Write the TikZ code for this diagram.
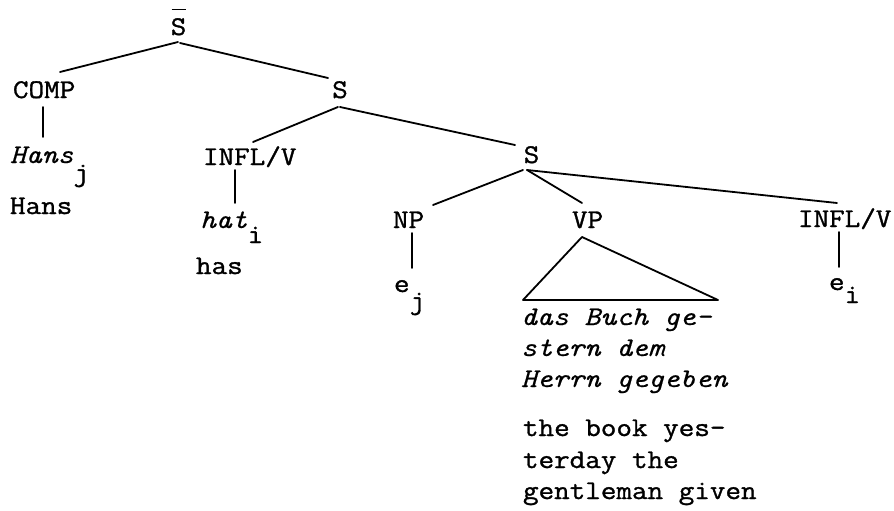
\documentclass[tikz,border=0pt]{standalone}
\usepackage{fontspec}
\setmainfont{Latin Modern Mono}[FakeStretch=1.12, FakeBold=1.2]
\newfontfamily\twit{Latin Modern Mono}[FakeStretch=1.12, FakeBold=0.5]
\usetikzlibrary{calc}
\tikzset{
  lbl/.style={inner sep=0pt, outer sep=0pt, font=\fontsize{27}{32}\selectfont},
  it/.style={inner sep=0pt, outer sep=0pt, font=\fontsize{27}{32}\twit\itshape},
  edge/.style={line width=1.8pt, line cap=round, line join=round}
}
\newcommand{\lowsub}[2]{\raisebox{-#1pt}{#2}}
\begin{document}
\begin{tikzpicture}[x=1pt,y=-1pt]
\useasboundingbox (0,0) rectangle (894,511);
% nodes
\node[lbl, anchor=base] (sbar) at (178.5,35) {S};
\node[lbl, anchor=base west] (comp) at (13,98) {COMP};
\node[lbl, anchor=base] (s2) at (340,98) {S};
\node[it, anchor=base west] (hansi) at (10,163) {Hans\lowsub{18}{\normalfont\fontsize{27}{32}\selectfont j}};
\node[lbl, anchor=base west] (hansr) at (10,214) {Hans};
\node[lbl, anchor=base west] (infl1) at (203,165) {INFL/V};
\node[it, anchor=base west] (hat) at (200,228) {hat\lowsub{15}{\normalfont\fontsize{27}{32}\selectfont i}};
\node[lbl, anchor=base west] (has) at (196,274) {has};
\node[lbl, anchor=base] (s3) at (531.5,163) {S};
\node[lbl, anchor=base west] (np) at (393,228) {NP};
\node[lbl, anchor=base west] (vp) at (572,228) {VP};
\node[lbl, anchor=base west] (infl2) at (798,227) {INFL/V};
\node[lbl, anchor=base west] (ej) at (394,292) {e\lowsub{17}{j}};
\node[lbl, anchor=base west] (ei) at (829,290) {e\lowsub{13}{i}};
\node[it, anchor=base west] (de1) at (521,325) {das Buch ge-};
\node[it, anchor=base west] (de2) at (521,356) {stern dem};
\node[it, anchor=base west] (de3) at (521,387) {Herrn gegeben};
\node[lbl, anchor=base west] (en1) at (523,436) {the book yes-};
\node[lbl, anchor=base west] (en2) at (523,468) {terday the};
\node[lbl, anchor=base west] (en3) at (523,499) {gentleman given};
% bar over S
\draw[line width=1.6pt] ($(sbar.base)+(-7,-25.5)$) -- ($(sbar.base)+(7,-25.5)$);
% connectors
\draw[edge] ($(sbar.base)+(-0.5,7)$) -- ($(comp.base west)+(47,-26)$);
\draw[edge] ($(sbar.base)+(1.5,8)$) -- ($(s2.base)+(-12,-20)$);
\draw[edge] ($(comp.base west)+(30,9)$) -- ($(hansi.base west)+(33,-26)$);
\draw[edge] ($(s2.base)+(-2,9)$) -- ($(infl1.base west)+(50,-23)$);
\draw[edge] ($(s2.base)+(0,9)$) -- ($(s3.base)+(-16.5,-18)$);
\draw[edge] ($(infl1.base west)+(32,5)$) -- ($(hat.base west)+(35,-25)$);
\draw[edge] ($(s3.base)+(-8.5,7)$) -- ($(np.base west)+(40,-23)$);
\draw[edge] ($(s3.base)+(-4.5,7)$) -- ($(vp.base west)+(10,-25)$);
\draw[edge] ($(s3.base)+(-4.5,7)$) -- ($(infl2.base west)+(39,-24)$);
\draw[edge] ($(np.base west)+(19,5)$) -- ($(ej.base west)+(18,-24)$);
\draw[edge] ($(infl2.base west)+(41,5)$) -- ($(ei.base west)+(10,-23)$);
\draw[edge] ($(vp.base west)+(10,9)$) -- ($(de1.base west)+(2,-25)$) -- ($(de1.base west)+(197,-25)$) -- cycle;
\end{tikzpicture}
\end{document}
